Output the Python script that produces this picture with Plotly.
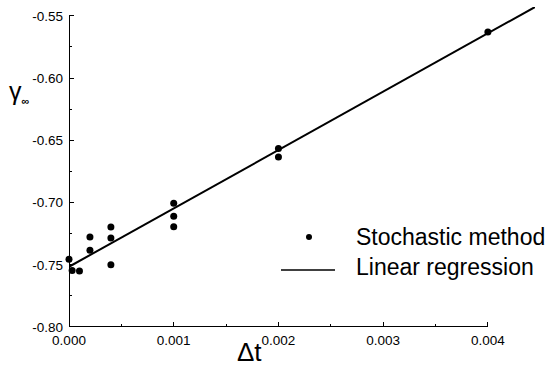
import plotly.graph_objects as go

# ---- data ----
dt_values = [0.0, 0.00003, 0.0001, 0.0002, 0.0002, 0.0004, 0.0004, 0.0004,
             0.001, 0.001, 0.001, 0.002, 0.002, 0.004]
gamma_values = [-0.7455, -0.7546, -0.7551, -0.7276, -0.7383, -0.7196, -0.7285, -0.750,
                -0.7006, -0.7110, -0.7194, -0.6565, -0.6635, -0.563]

fit_intercept = -0.7516
fit_slope = 46.9
fit_x = [0.0, 0.00445]
fit_y = [fit_intercept + fit_slope * x for x in fit_x]

x_tickvals = [0.0, 0.001, 0.002, 0.003, 0.004]
x_ticktext = ["0.000", "0.001", "0.002", "0.003", "0.004"]
x_minor = [0.0005, 0.0015, 0.0025, 0.0035]
y_tickvals = [-0.80, -0.75, -0.70, -0.65, -0.60, -0.55]
y_ticktext = ["-0.80", "-0.75", "-0.70", "-0.65", "-0.60", "-0.55"]
y_minor = [-0.775, -0.725, -0.675, -0.625, -0.575]

legend_labels = ["Stochastic method", "Linear regression"]

# ---- layout geometry (pixels) ----
W, H = 549, 373
L, R, T, B = 69, 14, 7, 46
pw, ph = W - L - R, H - T - B


def px(xp):
    return (xp - L) / pw


def py(yp):
    return (H - B - yp) / ph


FONT = "Liberation Sans, Arial, sans-serif"

fig = go.Figure()
fig.add_trace(go.Scatter(x=fit_x, y=fit_y, mode="lines",
                         line=dict(color="black", width=2),
                         name=legend_labels[1], showlegend=False))
fig.add_trace(go.Scatter(x=dt_values, y=gamma_values, mode="markers",
                         marker=dict(color="black", size=7),
                         name=legend_labels[0], showlegend=False, cliponaxis=False))

shapes = [
    # axis lines
    dict(type="line", xref="x", yref="y", x0=0, x1=x_tickvals[-1], y0=y_tickvals[0], y1=y_tickvals[0],
         line=dict(color="black", width=2)),
    dict(type="line", xref="x", yref="y", x0=0, x1=0, y0=y_tickvals[0], y1=y_tickvals[-1],
         line=dict(color="black", width=2)),
    # legend symbols
    dict(type="circle", xref="paper", yref="paper",
         x0=px(306), x1=px(312), y0=py(240), y1=py(234),
         fillcolor="black", line=dict(color="black", width=0)),
    dict(type="line", xref="paper", yref="paper",
         x0=px(281), x1=px(335), y0=py(270), y1=py(270),
         line=dict(color="black", width=1.5)),
]

annotations = [
    dict(text=legend_labels[0], x=px(354), y=py(237), xref="paper", yref="paper",
         xanchor="left", yanchor="middle", showarrow=False,
         font=dict(family=FONT, size=23, color="black")),
    dict(text=legend_labels[1], x=px(354), y=py(267), xref="paper", yref="paper",
         xanchor="left", yanchor="middle", showarrow=False,
         font=dict(family=FONT, size=23, color="black")),
    dict(text="Δt", x=px(249), y=py(352), xref="paper", yref="paper",
         xanchor="center", yanchor="middle", showarrow=False,
         font=dict(family=FONT, size=26, color="black")),
    dict(text="γ<sub><b><span style='font-size:11px'>∞</span></b></sub>", x=px(7), y=py(92),
         xref="paper", yref="paper",
         xanchor="left", yanchor="middle", showarrow=False,
         font=dict(family=FONT, size=25, color="black")),
]

fig.update_layout(
    width=W, height=H,
    margin=dict(l=L, r=R, t=T, b=B, autoexpand=False),
    paper_bgcolor="white", plot_bgcolor="white",
    showlegend=False,
    shapes=shapes, annotations=annotations,
    font=dict(family=FONT, color="black"),
)
fig.update_xaxes(range=[0, fit_x[-1]], showgrid=False, zeroline=False, showline=False,
                 automargin=False,
                 tickvals=x_tickvals, ticktext=x_ticktext,
                 ticks="inside", ticklen=5, tickwidth=1.4, tickcolor="black",
                 ticklabelstandoff=3,
                 tickfont=dict(family=FONT, size=13.5, color="black"),
                 minor=dict(tickvals=x_minor, ticks="inside", ticklen=3, tickwidth=1.3, tickcolor="black"))
fig.update_yaxes(range=[-0.80, fit_y[-1]], showgrid=False, zeroline=False, showline=False,
                 automargin=False,
                 tickvals=y_tickvals, ticktext=y_ticktext,
                 ticks="inside", ticklen=5, tickwidth=1.4, tickcolor="black",
                 ticklabelstandoff=5,
                 tickfont=dict(family=FONT, size=13.5, color="black"),
                 minor=dict(tickvals=y_minor, ticks="inside", ticklen=3, tickwidth=1.3, tickcolor="black"))

fig.write_html("out.html", config={"displayModeBar": False},
               post_script="document.body.style.margin='0';document.body.style.overflow='hidden';")
